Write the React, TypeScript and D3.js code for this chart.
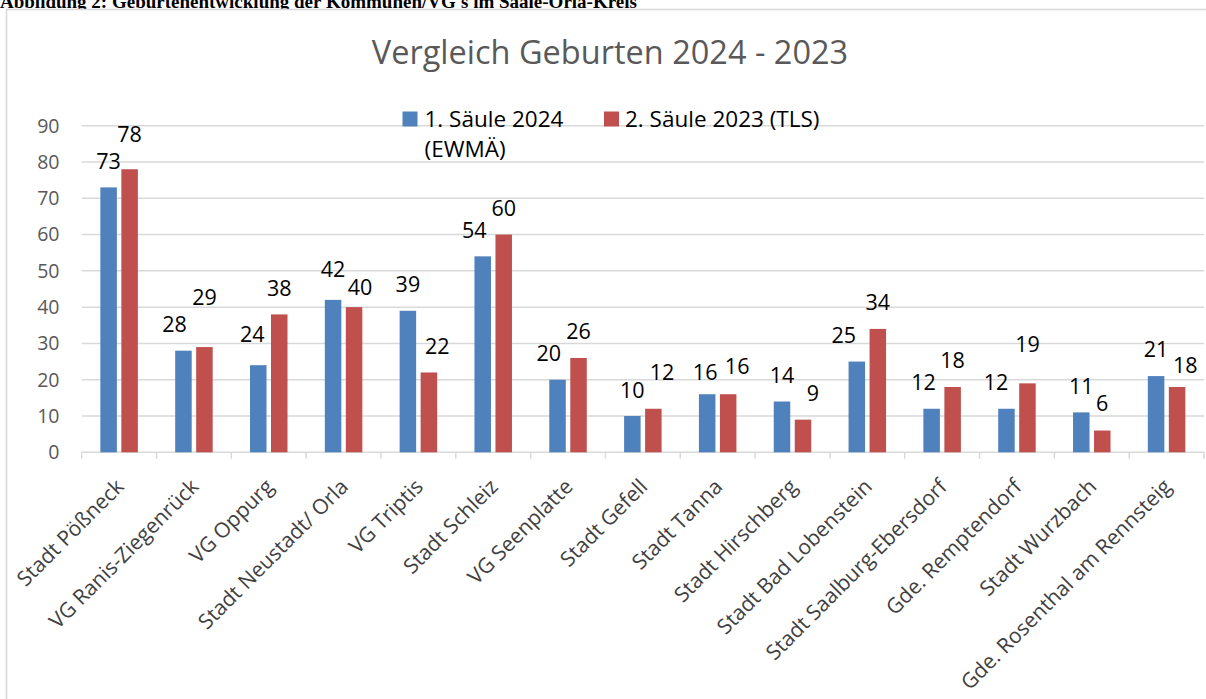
import React from "react";
import * as d3 from "d3";

const categories = [
  "Stadt Pößneck",
  "VG Ranis-Ziegenrück",
  "VG Oppurg",
  "Stadt Neustadt/ Orla",
  "VG Triptis",
  "Stadt Schleiz",
  "VG Seenplatte",
  "Stadt Gefell",
  "Stadt Tanna",
  "Stadt Hirschberg",
  "Stadt Bad Lobenstein",
  "Stadt Saalburg-Ebersdorf",
  "Gde. Remptendorf",
  "Stadt Wurzbach",
  "Gde. Rosenthal am Rennsteig",
];
const births2024 = [73, 28, 24, 42, 39, 54, 20, 10, 16, 14, 25, 12, 12, 11, 21];
const births2023 = [78, 29, 38, 40, 22, 60, 26, 12, 16, 9, 34, 18, 19, 6, 18];
const yTicks = [0, 10, 20, 30, 40, 50, 60, 70, 80, 90];
const seriesNames = ["1. Säule 2024", "2. Säule 2023 (TLS)"];
const title = "Vergleich Geburten 2024 - 2023";
const caption = "Abbildung 2: Geburtenentwicklung der Kommunen/VG's im Saale-Orla-Kreis";

// manual label nudges (dx, dy in px) as placed in the original chart
const nudge2024: [number, number][] = [
  [0, 0], [-9, 0], [-6, -4.5], [0, -4.5], [0, 0], [-8.5, 0], [-8.7, 0], [0, 0],
  [-2, 4.5], [0, 0], [-13, 0], [-8, 0], [-10.5, 0], [0, 0], [0, -1],
];
const nudge2023: [number, number][] = [
  [0, -8.5], [0, -23.5], [0, 0], [6, 6.5], [8.3, 0], [0, 0], [0, -0.5], [8.7, -10],
  [9, -1.5], [10, 0], [0, 0], [0, 0], [0, -13], [0, -1], [8.3, 5],
];

const FONT = "'Open Sans', sans-serif";
const COLORS = ["#4f81bd", "#c0504d"];

export default function App() {
  const W = 1206;
  const H = 699;
  const left = 81.7;
  const right = 1204;
  const y0 = 452.3;
  const y90 = 125.7;

  const x = d3.scaleBand<string>().domain(categories).range([left, right]).padding(0);
  const y = d3.scaleLinear().domain([0, 90]).range([y0, y90]);
  const inner = d3
    .scaleBand<string>()
    .domain(["a", "b"])
    .range([-18.75, 18.75])
    .paddingInner(0.214)
    .paddingOuter(0);

  const series = [
    { key: "a", values: births2024, nudge: nudge2024, color: COLORS[0] },
    { key: "b", values: births2023, nudge: nudge2023, color: COLORS[1] },
  ];

  const boundaries = d3.range(categories.length + 1).map((i) => left + i * x.step());

  return (
    <svg
      width={W}
      height={H}
      viewBox={`0 0 ${W} ${H}`}
      style={{ position: "absolute", left: 0, top: 0, display: "block", background: "#fff" }}
    >
      <rect x={0} y={0} width={W} height={H} fill="#fff" />
      <text
        x={0}
        y={7.5}
        fontFamily="'Liberation Serif', 'Times New Roman', serif"
        fontWeight="bold"
        fontSize={19}
        fill="#000"
      >
        {caption}
      </text>
      <rect x={6.5} y={9.5} width={1400} height={900} fill="#fff" stroke="#d9d9d9" strokeWidth={1.6} />

      <text x={610} y={64} textAnchor="middle" fontFamily={FONT} fontSize={32.5} fill="#595959">
        {title}
      </text>

      {/* gridlines */}
      {yTicks.map((t) => (
        <line key={t} x1={left} x2={right} y1={y(t)} y2={y(t)} stroke="#d9d9d9" strokeWidth={1.5} />
      ))}
      {/* category tick marks */}
      {boundaries.map((bx, i) => (
        <line key={i} x1={bx} x2={bx} y1={y0} y2={y0 + 6.5} stroke="#d9d9d9" strokeWidth={1.5} />
      ))}
      {/* y tick labels */}
      {yTicks.map((t) => (
        <text
          key={t}
          x={59.5}
          y={y(t)}
          dy="0.35em"
          textAnchor="end"
          fontFamily={FONT}
          fontSize={19.5}
          fill="#595959"
        >
          {t}
        </text>
      ))}

      {/* bars */}
      {series.map((s) =>
        categories.map((c, i) => {
          const cx = (x(c) as number) + x.bandwidth() / 2;
          const bx = cx + (inner(s.key) as number);
          return (
            <rect
              key={s.key + i}
              x={bx}
              y={y(s.values[i])}
              width={inner.bandwidth()}
              height={y0 - y(s.values[i])}
              fill={s.color}
            />
          );
        })
      )}

      {/* data labels */}
      {series.map((s) =>
        categories.map((c, i) => {
          const cx = (x(c) as number) + x.bandwidth() / 2;
          const bc = cx + (inner(s.key) as number) + inner.bandwidth() / 2;
          return (
            <text
              key={"l" + s.key + i}
              x={bc + s.nudge[i][0]}
              y={y(s.values[i]) - 18.5 + s.nudge[i][1]}
              textAnchor="middle"
              fontFamily={FONT}
              fontSize={21.5}
              fill="#000"
            >
              {s.values[i]}
            </text>
          );
        })
      )}

      {/* category labels */}
      {categories.map((c) => {
        const cx = (x(c) as number) + x.bandwidth() / 2;
        return (
          <text
            key={"c" + c}
            transform={`translate(${cx + 6},${488}) rotate(-45)`}
            textAnchor="end"
            fontFamily={FONT}
            fontSize={21}
            fill="#404040"
          >
            {c}
          </text>
        );
      })}

      {/* legend */}
      <rect x={402.5} y={111.5} width={15} height={15} fill={COLORS[0]} />
      <text fontFamily={FONT} fontSize={22.5} fill="#000">
        <tspan x={424.5} y={126.7}>
          {seriesNames[0]}
        </tspan>
        <tspan x={424.5} y={157.3}>
          (EWMÄ)
        </tspan>
      </text>
      <rect x={604} y={111.5} width={15} height={15} fill={COLORS[1]} />
      <text x={625} y={126.7} fontFamily={FONT} fontSize={22.5} fill="#000">
        {seriesNames[1]}
      </text>
    </svg>
  );
}
